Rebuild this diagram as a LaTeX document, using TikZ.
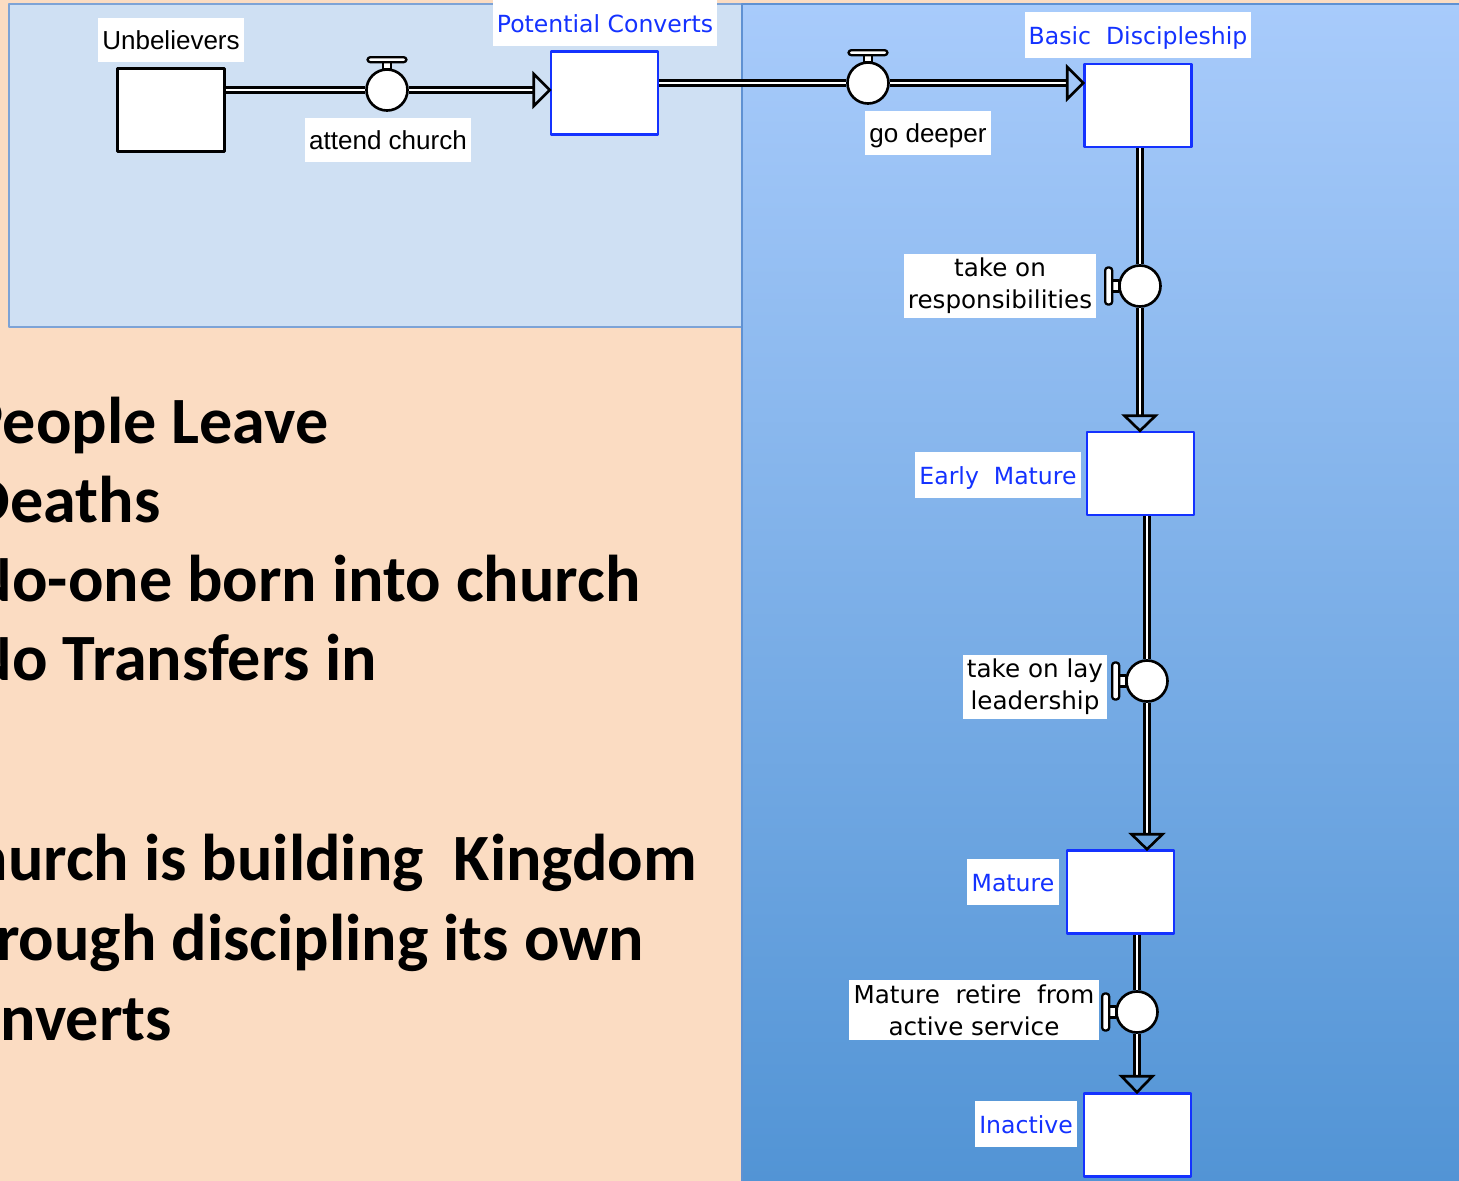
\documentclass[tikz,border=0pt]{standalone}
\usepackage{fontspec}
\usepackage{tikz}
\newfontfamily\slidefont{Carlito}
\newfontfamily\stellafont{DejaVu Sans}
\newfontfamily\helvfont{Liberation Sans}
\definecolor{slidepeach}{RGB}{251,220,194}
\definecolor{lightbox}{RGB}{207,224,243}
\definecolor{boxedge}{RGB}{125,163,214}
\definecolor{paneltop}{RGB}{168,203,251}
\definecolor{panelbottom}{RGB}{82,148,213}
\definecolor{paneledge}{RGB}{95,145,210}
\definecolor{stockblue}{RGB}{20,50,255}

\begin{document}
\begin{tikzpicture}[x=0.01cm, y=-0.01cm, line join=round,
	stock/.style={draw=black, fill=white, line width=0.7pt, minimum width=1.07cm, minimum height=0.83cm, inner sep=0pt},
	bluestock/.style={stock, draw=stockblue},
	valve/.style={circle, draw=black, fill=white, line width=0.75pt, minimum size=0.41cm, inner sep=0pt},
	pipe/.style={draw=black, line width=0.7pt, double=white, double distance=0.65pt},
	flowtip/.style={draw=black, line width=0.75pt, line join=miter},
	handle/.style={draw=black, fill=white, line width=0.65pt},
	lbl/.style={fill=white, inner xsep=1.2pt, inner ysep=1.3pt, text height=0.78em, text depth=0.22em, font=\helvfont\fontsize{7.4}{8}\selectfont},
	bluelbl/.style={lbl, text=stockblue, inner ysep=1.5pt, font=\stellafont\fontsize{6.7}{8}\selectfont},
	twolbl/.style={fill=white, inner xsep=1.2pt, inner ysep=1.2pt, align=center, font=\stellafont\fontsize{7}{9.1}\selectfont},
	bigtxt/.style={anchor=base west, inner sep=0pt, font=\slidefont\bfseries\fontsize{18.8}{22}\selectfont}]
	\useasboundingbox (0,0) rectangle (1459,1181);
	% slide background
	\fill[slidepeach] (0,0) rectangle (1459,1181);
	\draw[fill=lightbox, draw=boxedge, line width=0.6pt] (9,4) rectangle (742,327);
	\begin{scope}
		\clip (0,0) rectangle (742,1181);
		\node[bigtxt] (leave) at (-32,443) {People Leave};
		\node[bigtxt] (deaths) at (-32,522) {Deaths};
		\node[bigtxt] (born) at (-32,601) {No-one born into church};
		\node[bigtxt] (transfers) at (-32,680) {No Transfers in};
		\node[bigtxt] (kingdom) at (-63,880) {Church is building\ \ Kingdom};
		\node[bigtxt] (discipling) at (-63,960) {through discipling its own};
		\node[bigtxt] (converts) at (-63,1040) {converts};
	\end{scope}
	\shade[top color=paneltop, bottom color=panelbottom] (742,4) rectangle (1459,1181);
	\draw[paneledge, line width=0.8pt] (742,1181) -- (742,4) -- (1459,4);
	% stocks
	\node[stock] (unb) at (171,110) {};
	\node[bluestock] (conv) at (604.5,93) {};
	\node[bluestock] (basic) at (1138,105.5) {};
	\node[bluestock] (early) at (1140.5,473.5) {};
	\node[bluestock] (mature) at (1120.5,892) {};
	\node[bluestock] (inactive) at (1137.5,1135) {};
	% valves
	\node[valve] (attend) at (387,90) {};
	\node[valve] (deeper) at (868,83) {};
	\node[valve] (resp) at (1140,286) {};
	\node[valve] (lay) at (1147,681) {};
	\node[valve] (retire) at (1137,1012) {};
	% flows
	\draw[pipe] (unb.east |- attend) -- (attend.west);
	\draw[pipe] (attend.east) -- ([xshift=-0.16cm]conv.west |- attend);
	\draw[flowtip] (conv.west |- attend) -- ++(-16,16) -- ++(0,-32) -- cycle;
	\draw[pipe] (conv.east |- deeper) -- (deeper.west);
	\draw[pipe] (deeper.east) -- ([xshift=-0.16cm]basic.west |- deeper);
	\draw[flowtip] (basic.west |- deeper) -- ++(-16,16) -- ++(0,-32) -- cycle;
	\draw[pipe] (basic.south -| resp) -- (resp.north);
	\draw[pipe] (resp.south) -- ([yshift=0.15cm]early.north -| resp);
	\draw[flowtip] (early.north -| resp) -- ++(-15.5,-15) -- ++(31,0) -- cycle;
	\draw[pipe] (early.south -| lay) -- (lay.north);
	\draw[pipe] (lay.south) -- ([yshift=0.15cm]mature.north -| lay);
	\draw[flowtip] (mature.north -| lay) -- ++(-15.5,-15) -- ++(31,0) -- cycle;
	\draw[pipe] (mature.south -| retire) -- (retire.north);
	\draw[pipe] (retire.south) -- ([yshift=0.16cm]inactive.north -| retire);
	\draw[flowtip] (inactive.north -| retire) -- ++(-15.5,-16) -- ++(31,0) -- cycle;
	% valve handles
	\foreach \v in {attend, deeper} {
		\draw[handle] (\v.north) ++(-4,1) rectangle ++(8,-7);
		\draw[handle, rounded corners=0.8pt] (\v.north) ++(-19.5,-6) rectangle ++(39,-5);
	}
	\foreach \v in {resp, lay, retire} {
		\draw[handle] (\v.west) ++(1,-5.5) rectangle ++(-7,11);
		\draw[handle, rounded corners=0.8pt] (\v.west) ++(-6,-18.5) rectangle ++(-7,37);
	}
	% labels
	\node[lbl] (unblbl) at (171,40) {Unbelievers};
	\node[lbl] (attendlbl) at (388,140) {attend church};
	\node[bluelbl] (convlbl) at (605,23) {Potential Converts};
	\node[lbl] (deeperlbl) at (928,133) {go deeper};
	\node[bluelbl] (basiclbl) at (1138,35) {Basic\ \ Discipleship};
	\node[twolbl] (resplbl) at (1000,286) {take on\\responsibilities};
	\node[bluelbl] (earlylbl) at (998,475) {Early\ \ Mature};
	\node[twolbl] (laylbl) at (1035,687) {take on lay\\leadership};
	\node[bluelbl] (maturelbl) at (1013,882) {Mature};
	\node[twolbl] (retirelbl) at (974,1010) {Mature\ \ retire\ \ from\\active service};
	\node[bluelbl] (inactivelbl) at (1026,1124) {Inactive};
\end{tikzpicture}
\end{document}
